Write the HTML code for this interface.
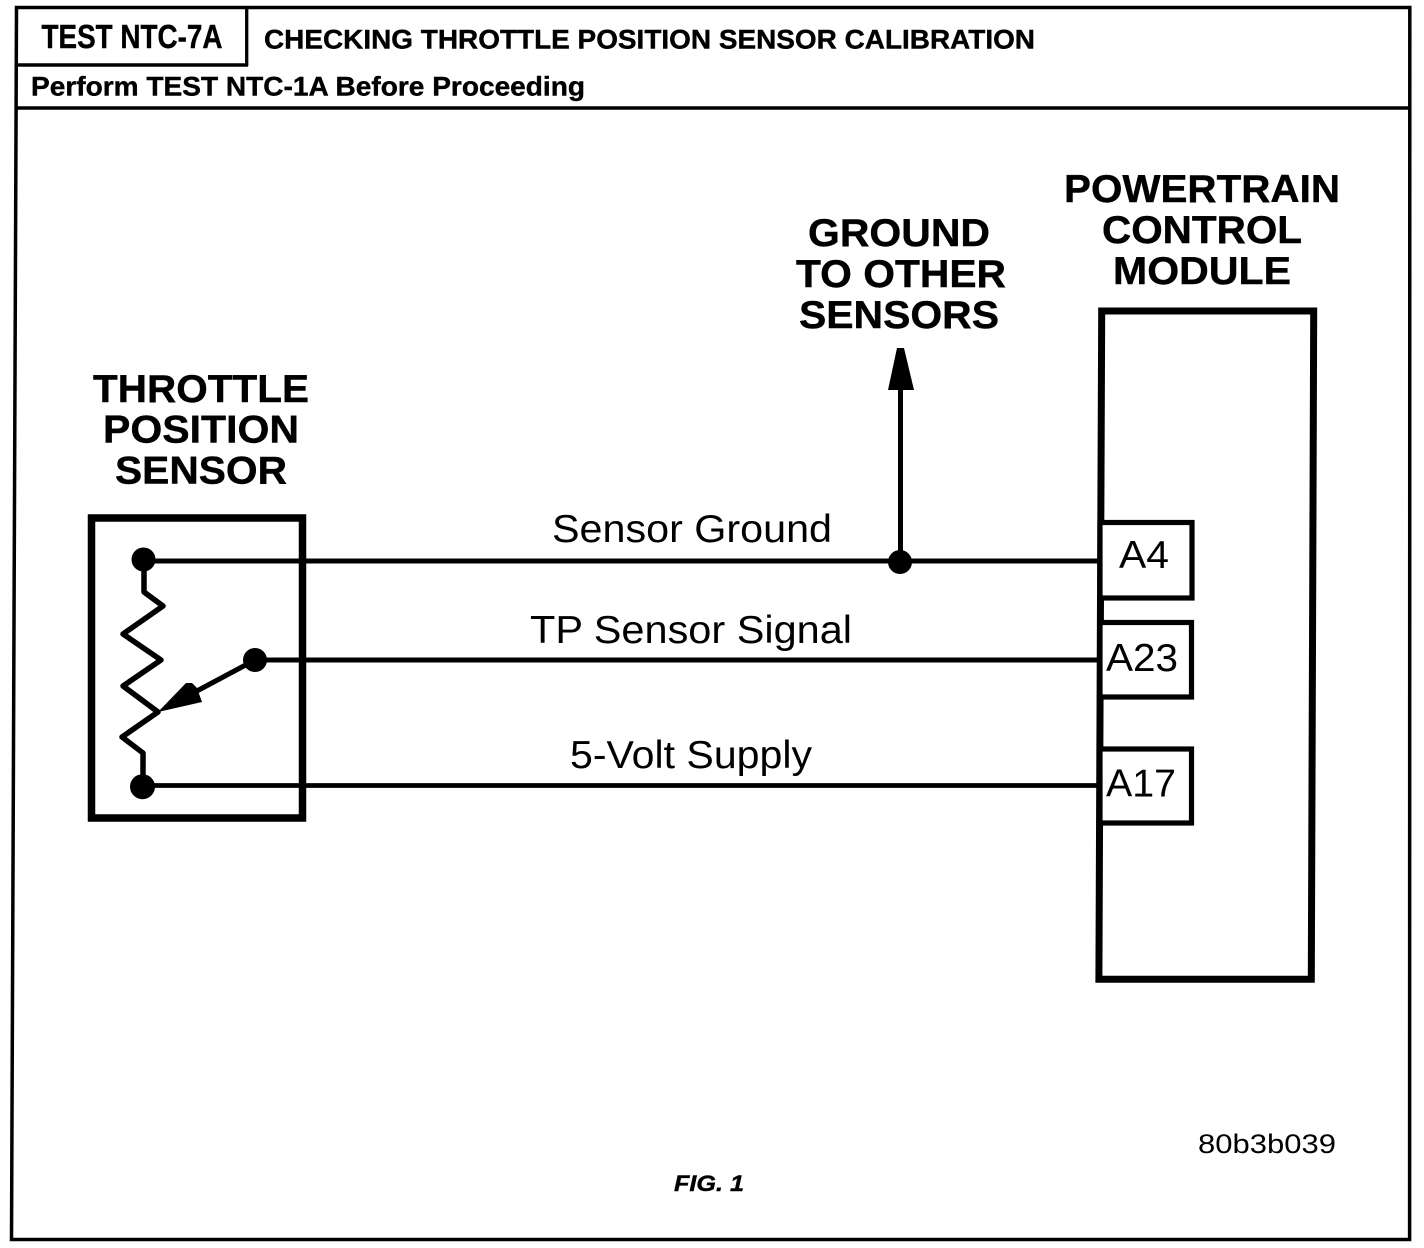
<!DOCTYPE html>
<html>
<head>
<meta charset="utf-8">
<style>
html,body{margin:0;padding:0;background:#fff;}
svg{display:block;}
text{font-family:"Liberation Sans",sans-serif;fill:#000;}
.b{font-weight:bold;stroke:#000;stroke-width:.4;}
</style>
</head>
<body>
<svg width="1424" height="1248" viewBox="0 0 1424 1248" xmlns="http://www.w3.org/2000/svg">
<rect width="1424" height="1248" fill="#fff"/>
<!-- outer frame -->
<path d="M16.5 7.5 L1409.8 7.5 L1409.6 1239.5 L11.5 1239.5 Z" fill="none" stroke="#000" stroke-width="3.5"/>
<line x1="16" y1="108" x2="1409" y2="108" stroke="#000" stroke-width="3.5"/>
<!-- test id box: bottom rule stops at the box's right edge -->
<line x1="16" y1="65" x2="248" y2="65" stroke="#000" stroke-width="3.4"/>
<line x1="246.7" y1="6" x2="246.7" y2="66" stroke="#000" stroke-width="3.3"/>
<!-- header text -->
<text x="41.5" y="47.8" class="b" font-size="33.5" textLength="181" lengthAdjust="spacingAndGlyphs">TEST NTC-7A</text>
<text x="264" y="48.5" class="b" font-size="27" textLength="771" lengthAdjust="spacingAndGlyphs">CHECKING THROTTLE POSITION SENSOR CALIBRATION</text>
<text x="31" y="95.5" class="b" font-size="27" textLength="554" lengthAdjust="spacingAndGlyphs">Perform TEST NTC-1A Before Proceeding</text>
<!-- PCM -->
<text x="1202" y="202" class="b" font-size="39" text-anchor="middle" textLength="276" lengthAdjust="spacingAndGlyphs">POWERTRAIN</text>
<text x="1202" y="243" class="b" font-size="39" text-anchor="middle" textLength="200" lengthAdjust="spacingAndGlyphs">CONTROL</text>
<text x="1202" y="284" class="b" font-size="39" text-anchor="middle" textLength="178" lengthAdjust="spacingAndGlyphs">MODULE</text>
<path d="M1101.7 311 L1313.7 311 L1311.3 979.3 L1098.9 979.3 Z" fill="none" stroke="#000" stroke-width="7"/>
<rect x="1100" y="522.5" width="92" height="75.5" fill="#fff" stroke="#000" stroke-width="5.2"/>
<rect x="1100" y="622.5" width="91.5" height="74.5" fill="#fff" stroke="#000" stroke-width="5.2"/>
<rect x="1100" y="749" width="91.5" height="74" fill="#fff" stroke="#000" stroke-width="5.2"/>
<text x="1119" y="568" font-size="39" textLength="50" lengthAdjust="spacingAndGlyphs">A4</text>
<text x="1106" y="671" font-size="39" textLength="72" lengthAdjust="spacingAndGlyphs">A23</text>
<text x="1106" y="796.5" font-size="39" textLength="70" lengthAdjust="spacingAndGlyphs">A17</text>
<!-- ground label -->
<text x="899" y="246" class="b" font-size="39" text-anchor="middle" textLength="182" lengthAdjust="spacingAndGlyphs">GROUND</text>
<text x="901" y="287" class="b" font-size="39" text-anchor="middle" textLength="210" lengthAdjust="spacingAndGlyphs">TO OTHER</text>
<text x="899" y="328" class="b" font-size="39" text-anchor="middle" textLength="200" lengthAdjust="spacingAndGlyphs">SENSORS</text>
<line x1="900.5" y1="380" x2="900.5" y2="561" stroke="#000" stroke-width="5"/>
<path d="M897 348 L904 348 L914 390 L888 390 Z" fill="#000"/>
<circle cx="900" cy="562" r="12" fill="#000"/>
<!-- sensor -->
<text x="201" y="402" class="b" font-size="39" text-anchor="middle" textLength="216" lengthAdjust="spacingAndGlyphs">THROTTLE</text>
<text x="201" y="442.5" class="b" font-size="39" text-anchor="middle" textLength="196" lengthAdjust="spacingAndGlyphs">POSITION</text>
<text x="201" y="483.5" class="b" font-size="39" text-anchor="middle" textLength="172" lengthAdjust="spacingAndGlyphs">SENSOR</text>
<rect x="91.5" y="518" width="211" height="300" fill="none" stroke="#000" stroke-width="7.5"/>
<!-- wires -->
<line x1="144" y1="561" x2="1098" y2="561" stroke="#000" stroke-width="5"/>
<line x1="255" y1="660" x2="1098" y2="660" stroke="#000" stroke-width="5"/>
<line x1="143" y1="785.5" x2="1098" y2="785.5" stroke="#000" stroke-width="4.8"/>
<circle cx="143.5" cy="559.5" r="12" fill="#000"/>
<circle cx="255" cy="660" r="12" fill="#000"/>
<circle cx="142.5" cy="786.7" r="12.5" fill="#000"/>
<!-- resistor -->
<path d="M144 560 L144 592 L163 606 L123 634 L161 660 L123 686 L158 712 L122 737 L143 753 L143 787" fill="none" stroke="#000" stroke-width="5.5" stroke-linejoin="round"/>
<!-- wiper -->
<line x1="255" y1="660" x2="195" y2="692" stroke="#000" stroke-width="5"/>
<path d="M158 712 L186 683 L192 683 L197 688 L202 702 Z" fill="#000"/>
<!-- wire labels -->
<text x="692" y="542" font-size="39" text-anchor="middle" textLength="280" lengthAdjust="spacingAndGlyphs">Sensor Ground</text>
<text x="691" y="643" font-size="39" text-anchor="middle" textLength="322" lengthAdjust="spacingAndGlyphs">TP Sensor Signal</text>
<text x="691" y="768" font-size="39" text-anchor="middle" textLength="242" lengthAdjust="spacingAndGlyphs">5-Volt Supply</text>
<!-- footer -->
<text x="1198" y="1153" font-size="27" textLength="138" lengthAdjust="spacingAndGlyphs">80b3b039</text>
<text x="674" y="1191" class="b" font-size="22" font-style="italic" textLength="70" lengthAdjust="spacingAndGlyphs">FIG. 1</text>
</svg>
</body>
</html>
